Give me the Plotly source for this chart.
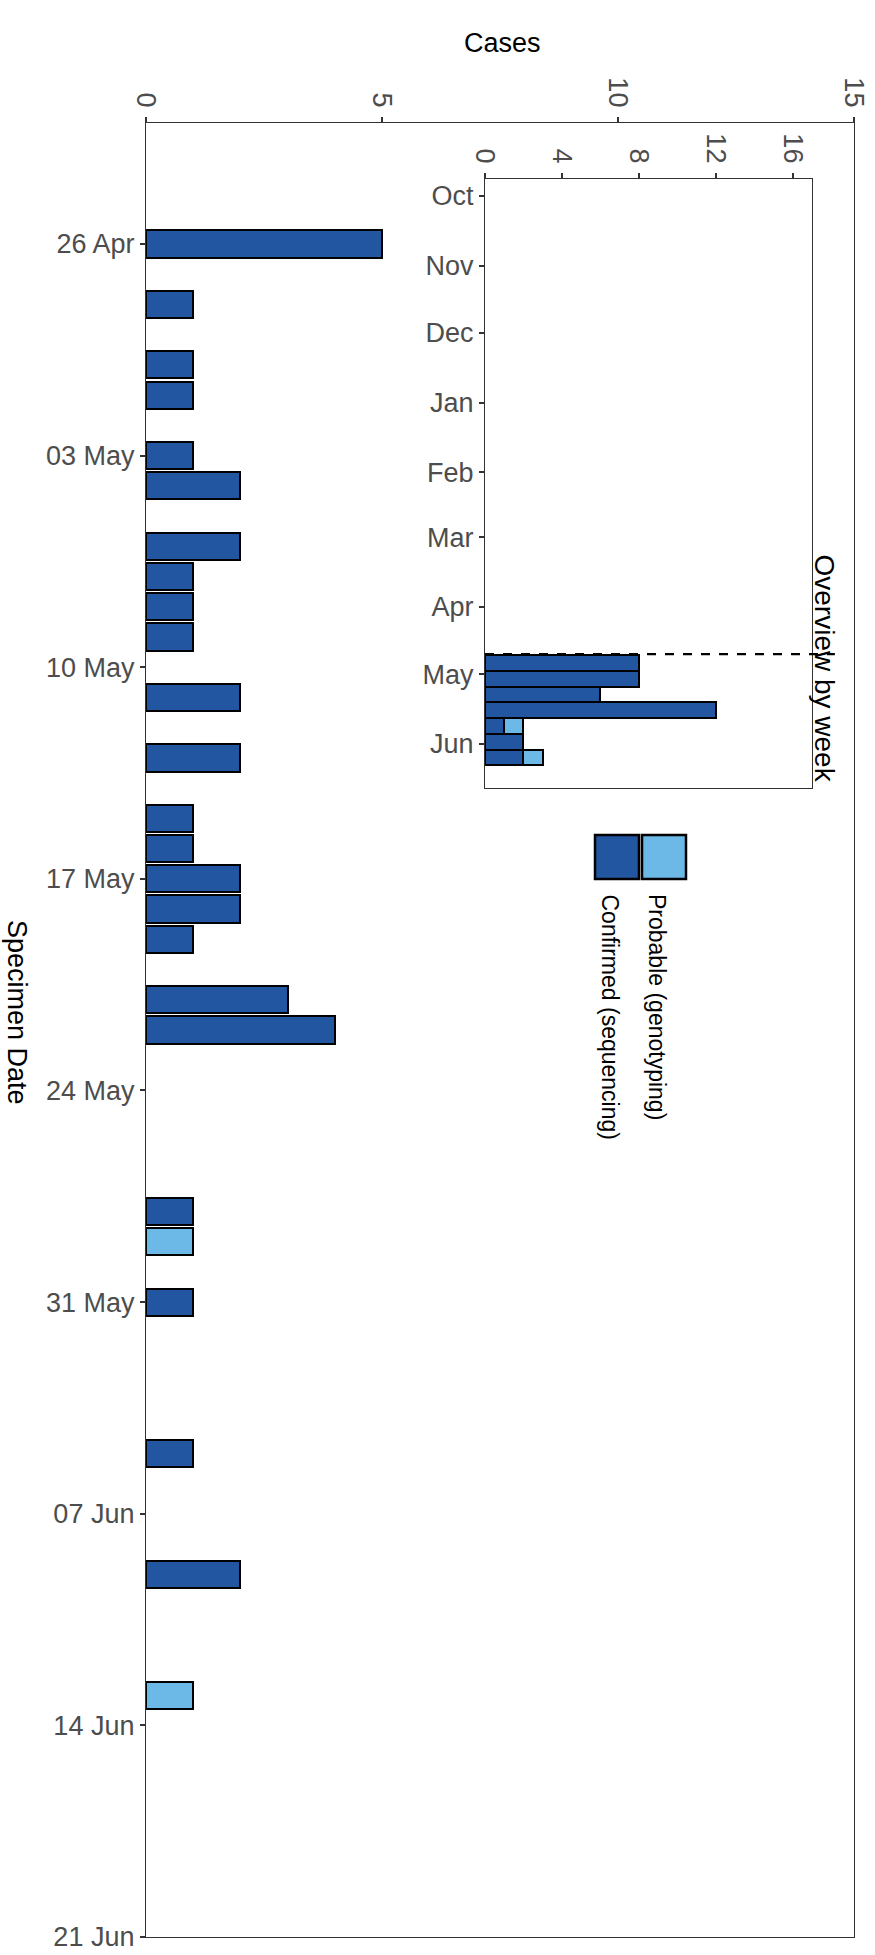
import plotly.graph_objects as go
import pandas as pd

W, H = 875, 1955
# Daily data
conf_dates = ["2020-04-26","2020-04-28","2020-04-30","2020-05-01","2020-05-03","2020-05-04",
              "2020-05-06","2020-05-07","2020-05-08","2020-05-09","2020-05-11","2020-05-13",
              "2020-05-15","2020-05-16","2020-05-17","2020-05-18","2020-05-19","2020-05-21",
              "2020-05-22","2020-05-28","2020-05-31","2020-06-05","2020-06-09"]
conf_counts = [5,1,1,1,1,2,2,1,1,1,2,2,1,1,2,2,1,3,4,1,1,1,2]
prob_dates = ["2020-05-29","2020-06-13"]
prob_counts = [1,1]
# Weekly data (week start dates)
week_starts = ["2020-04-26","2020-05-03","2020-05-10","2020-05-17","2020-05-24","2020-05-31","2020-06-07"]
week_conf = [8,8,6,12,1,2,2]
week_prob = [0,0,0,0,1,0,1]

C_CONF = "#2356A0"
C_PROB = "#6CB8E6"
DAY = 86400000
TICKC = "#4D4D4D"
FONT = "Liberation Sans, Arial"

def px(x): return x / W
def py(y): return 1 - y / H

fig = go.Figure()
bl = dict(color="black", width=2.5)
fig.add_trace(go.Bar(y=pd.to_datetime(conf_dates), x=conf_counts, orientation="h",
                     width=0.9*DAY, marker=dict(color=C_CONF, line=bl),
                     xaxis="x", yaxis="y", showlegend=False))
fig.add_trace(go.Bar(y=pd.to_datetime(prob_dates), x=prob_counts, orientation="h",
                     width=0.9*DAY, marker=dict(color=C_PROB, line=bl),
                     xaxis="x", yaxis="y", showlegend=False))
wc = pd.to_datetime(week_starts)
fig.add_trace(go.Bar(y=wc, x=week_conf, orientation="h", width=7*DAY,
                     marker=dict(color=C_CONF, line=bl), xaxis="x2", yaxis="y2", showlegend=False))
fig.add_trace(go.Bar(y=wc, x=week_prob, orientation="h", width=7*DAY,
                     marker=dict(color=C_PROB, line=bl), xaxis="x2", yaxis="y2", showlegend=False))

tickfont = dict(family=FONT, size=27, color=TICKC)
common = dict(tickfont=tickfont, ticks="outside", ticklen=5, tickcolor="#333", tickwidth=1.5,
              showline=True, mirror=True, linecolor="#333", linewidth=1.3, showgrid=False,
              zeroline=False, automargin=False, ticklabeloverflow="allow")
fig.update_layout(
    width=W, height=H, margin=dict(l=0, r=0, t=0, b=0),
    paper_bgcolor="white", plot_bgcolor="rgba(0,0,0,0)", barmode="stack", bargap=0,
    xaxis=dict(domain=[px(146), px(854)], range=[0, 15], side="top", tickvals=[0,5,10,15],
               tickangle=90, anchor="y", **common),
    yaxis=dict(domain=[py(1937), py(123)], type="date",
               range=["2020-06-21", "2020-04-22"],
               tickvals=pd.date_range("2020-04-26", "2020-06-21", freq="7D"),
               tickformat="%d %b", anchor="x", **common),
    xaxis2=dict(domain=[px(485), px(812)], range=[0, 17.0], side="top", tickvals=[0,4,8,12,16],
                tickangle=90, anchor="y2", **common),
    yaxis2=dict(domain=[py(788), py(179)], type="date",
                range=["2020-06-20 14:00", "2019-09-23 10:00"],
                tickvals=pd.date_range("2019-10-01", "2020-06-01", freq="MS"),
                tickformat="%b", anchor="x2", **common),
)
fig.add_shape(type="line", xref="x2 domain", yref="y2", x0=0, x1=1.07,
              y0="2020-04-22", y1="2020-04-22", line=dict(color="black", width=2.2, dash="dash"))
fig.add_annotation(text="Overview by week", textangle=90, x=px(842), y=py(668), xref="paper", yref="paper",
                   showarrow=False, font=dict(family=FONT, size=28, color="black"))
fig.add_annotation(text="Cases", x=px(502), y=py(26), xref="paper", yref="paper",
                   showarrow=False, font=dict(family=FONT, size=27, color="black"))
fig.add_annotation(text="Specimen Date", textangle=90, x=0, y=py(1012), xref="paper", yref="paper",
                   showarrow=False, font=dict(family=FONT, size=27, color="black"))
# legend
for x0, col, lab in [(595, C_CONF, "Confirmed (sequencing)"), (642, C_PROB, "Probable (genotyping)")]:
    fig.add_shape(type="rect", xref="paper", yref="paper", x0=px(x0), x1=px(x0+44),
                  y0=py(835), y1=py(879), fillcolor=col, line=dict(color="black", width=2.5))
    fig.add_annotation(text=lab, textangle=90, x=px(x0+30), y=py(892), xref="paper", yref="paper",
                       yanchor="top", showarrow=False,
                       font=dict(family=FONT, size=23, color="black"))
fig.write_html("out.html", config={"displayModeBar": False},
               post_script="document.body.style.margin='0';document.body.style.overflow='hidden';")
